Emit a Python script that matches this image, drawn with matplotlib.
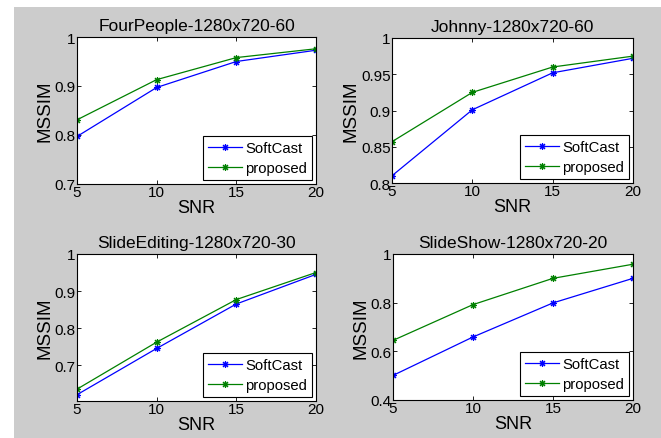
import matplotlib
matplotlib.use("Agg")
import matplotlib.pyplot as plt
from matplotlib.patches import Rectangle

plt.rcParams['font.family'] = ['Liberation Sans', 'DejaVu Sans']

snr = [5, 10, 15, 20]

titles = ["FourPeople-1280x720-60", "Johnny-1280x720-60",
          "SlideEditing-1280x720-30", "SlideShow-1280x720-20"]

softcast = [
    [0.797, 0.897, 0.950, 0.973],
    [0.810, 0.901, 0.952, 0.972],
    [0.620, 0.745, 0.865, 0.945],
    [0.501, 0.659, 0.799, 0.900],
]
proposed = [
    [0.831, 0.913, 0.958, 0.976],
    [0.857, 0.925, 0.960, 0.975],
    [0.635, 0.762, 0.877, 0.950],
    [0.645, 0.792, 0.900, 0.958],
]

ylims = [(0.7, 1.0), (0.8, 1.0), (0.603, 1.0), (0.4, 1.0)]
yticks = [[0.7, 0.8, 0.9, 1.0], [0.8, 0.85, 0.9, 0.95, 1.0],
          [0.7, 0.8, 0.9, 1.0], [0.4, 0.6, 0.8, 1.0]]
yticklabels = [["0.7", "0.8", "0.9", "1"], ["0.8", "0.85", "0.9", "0.95", "1"],
               ["0.7", "0.8", "0.9", "1"], ["0.4", "0.6", "0.8", "1"]]

W, H = 661, 439
fig = plt.figure(figsize=(W / 100, H / 100), dpi=100, facecolor='white')
fig.patches.append(Rectangle((14 / W, 0), 1 - 14 / W, 1 - 8 / H,
                             transform=fig.transFigure, facecolor='#cccccc',
                             edgecolor='none', zorder=-10))

# axes boxes in pixels: left, top, right, bottom
boxes = [(77, 38, 316, 185), (392, 39, 633, 184),
         (77, 255, 316, 402), (393, 255, 633, 401)]

star = (8, 2, 0)

for i, (l, t, r, b) in enumerate(boxes):
    ax = fig.add_axes([l / W, 1 - b / H, (r - l) / W, (b - t) / H])
    ax.set_facecolor('white')
    ax.plot(snr, softcast[i], color='#0000ff', marker=star, markersize=5,
            markeredgewidth=0.8, linewidth=0.9, label='SoftCast')
    ax.plot(snr, proposed[i], color='#008000', marker=star, markersize=5,
            markeredgewidth=0.8, linewidth=0.9, label='proposed')
    ax.set_xlim(5, 20)
    ax.set_ylim(*ylims[i])
    ax.set_xticks(snr)
    ax.set_xticklabels([str(s) for s in snr], fontsize=11)
    ax.set_yticks(yticks[i])
    ax.set_yticklabels(yticklabels[i], fontsize=11)
    ax.tick_params(direction='in', top=True, right=True, length=3,
                   width=0.6, pad=1)
    for s in ax.spines.values():
        s.set_linewidth(0.8)
    ax.set_title(titles[i], fontsize=12.5, pad=5)
    ax.set_xlabel('SNR', fontsize=13, labelpad=0)
    ax.set_ylabel('MSSIM', fontsize=13.5, labelpad=1)
    leg = ax.legend(loc='lower right', fontsize=10.7, fancybox=False,
                    framealpha=1, edgecolor='black', borderaxespad=0.25,
                    handlelength=2.3, handletextpad=0.2, borderpad=0.35,
                    labelspacing=0.4)
    leg.get_frame().set_linewidth(0.8)

fig.savefig('out.png', dpi=100, facecolor='white')
